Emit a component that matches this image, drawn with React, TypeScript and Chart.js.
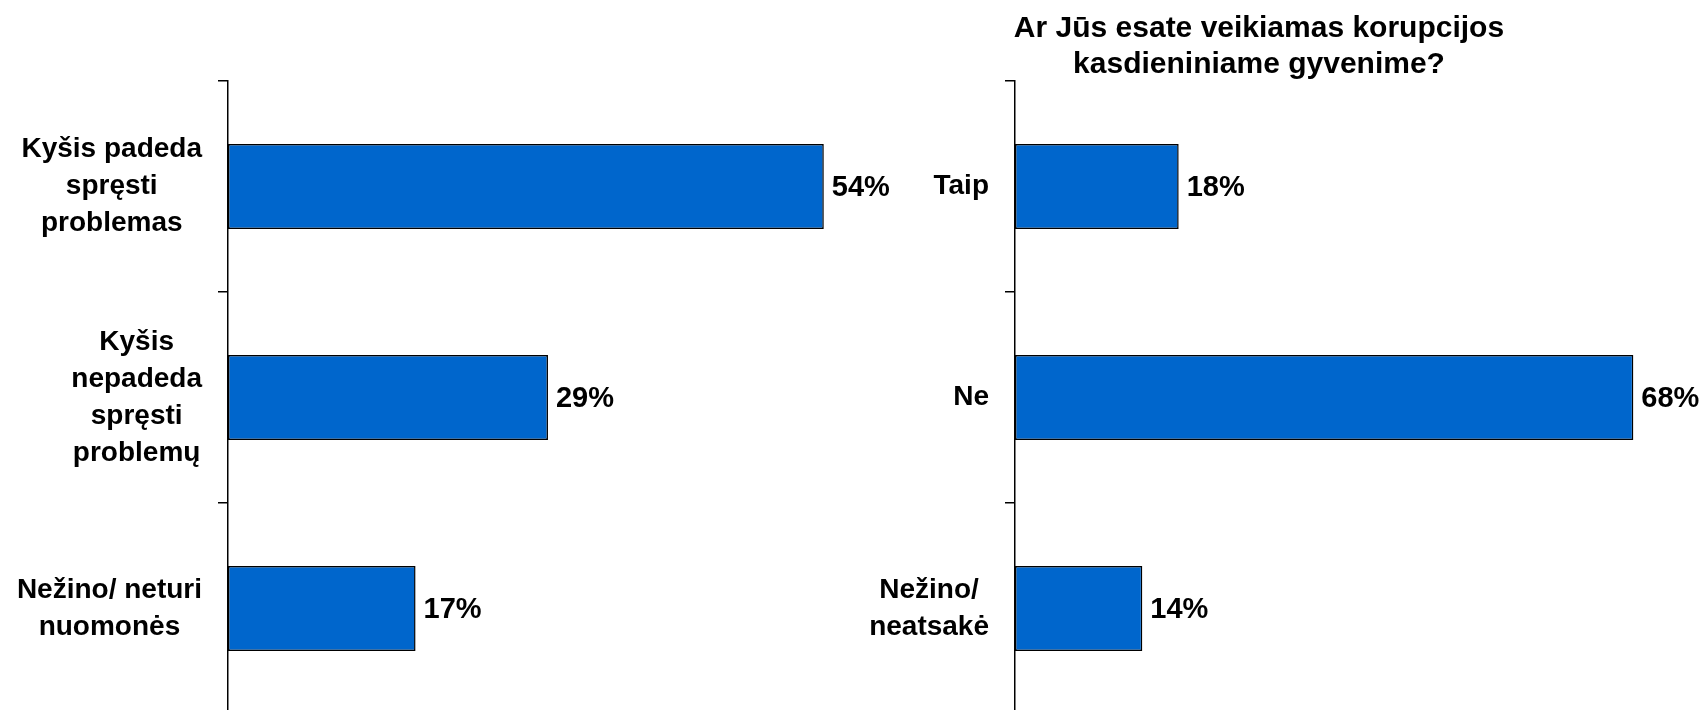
import React, { useEffect, useRef } from "react";
import { Chart, registerables } from "chart.js";

Chart.register(...registerables);

const FONT = '"Liberation Sans", Arial, Helvetica, sans-serif';

// ---- Data ----
const leftCategories: string[][] = [
  ["Kyšis padeda", "spręsti", "problemas"],
  ["Kyšis", "nepadeda", "spręsti", "problemų"],
  ["Nežino/ neturi", "nuomonės"],
];
const leftValues: number[] = [54, 29, 17];
const leftAxisMax = 60;

const rightCategories: string[][] = [["Taip"], ["Ne"], ["Nežino/", "neatsakė"]];
const rightValues: number[] = [18, 68, 14];
const rightAxisMax = 75;
const rightTitle: string[] = ["Ar Jūs esate veikiamas korupcijos", "kasdieniniame gyvenime?"];

const BAR_COLOR = "#0066CC";

const labelPlugin = {
  id: "customLabels",
  afterDraw(chart: any, _args: any, opts: any) {
    const ctx = chart.ctx as CanvasRenderingContext2D;
    const y = chart.scales.y;
    ctx.save();
    ctx.fillStyle = "#000";
    ctx.font = `bold ${opts.fontSize}px ${FONT}`;
    ctx.textBaseline = "middle";
    ctx.textAlign = "center";
    (opts.categories as string[][]).forEach((lines, i) => {
      const yc = y.getPixelForTick(i);
      const w = Math.max(...lines.map((l) => ctx.measureText(l).width));
      const cx = y.right - opts.tickLength - opts.labelGap - w / 2;
      lines.forEach((line, j) => {
        ctx.fillText(line, cx, yc + (j - (lines.length - 1) / 2) * opts.lineHeight);
      });
    });
    const meta = chart.getDatasetMeta(0);
    ctx.textAlign = "left";
    ctx.font = `bold ${opts.valueSize}px ${FONT}`;
    meta.data.forEach((bar: any, i: number) => {
      ctx.fillText(opts.values[i] + "%", bar.x + opts.valueGap, bar.y + 1);
    });
    if (opts.title) {
      ctx.textAlign = "center";
      ctx.textBaseline = "alphabetic";
      ctx.font = `bold ${opts.titleSize}px ${FONT}`;
      const tx = chart.chartArea.left + opts.titleOffsetX;
      (opts.title as string[]).forEach((line, j) => {
        ctx.fillText(line, tx, opts.titleBaseline + j * opts.titleLineHeight);
      });
    }
    ctx.restore();
  },
};

interface PanelProps {
  categories: string[][];
  values: number[];
  max: number;
  width: number;
  left: number;
  axisWidth: number;
  padRight: number;
  title?: string[];
}

function BarPanel(props: PanelProps) {
  const ref = useRef<HTMLCanvasElement | null>(null);
  useEffect(() => {
    if (!ref.current) return;
    const chart = new Chart(ref.current, {
      type: "bar",
      data: {
        labels: props.categories.map((c) => c.join(" ")),
        datasets: [
          {
            data: props.values,
            backgroundColor: BAR_COLOR,
            borderColor: "#000",
            borderWidth: 1.5,
            borderSkipped: false,
            barPercentage: 0.403,
            categoryPercentage: 1,
          },
        ],
      },
      options: {
        indexAxis: "y",
        responsive: false,
        animation: false,
        layout: { padding: { top: 81, bottom: 6, left: 0, right: props.padRight } },
        plugins: {
          legend: { display: false },
          tooltip: { enabled: false },
          customLabels: {
            categories: props.categories,
            values: props.values,
            fontSize: 28,
            valueSize: 29,
            lineHeight: 37,
            tickLength: 10,
            labelGap: 16,
            valueGap: 8,
            title: props.title,
            titleSize: 30,
            titleOffsetX: 244,
            titleBaseline: 37,
            titleLineHeight: 36,
          },
        } as any,
        scales: {
          x: { display: false, min: 0, max: props.max },
          y: {
            grid: {
              drawOnChartArea: false,
              drawTicks: true,
              tickLength: 10,
              color: "#000",
              lineWidth: 1.5,
              offset: true,
            },
            border: { display: true, color: "#000", width: 1.5 },
            ticks: { display: false },
            afterFit: (s: any) => {
              s.width = props.axisWidth;
            },
          },
        },
      },
      plugins: [labelPlugin],
    } as any);
    return () => chart.destroy();
  }, []);
  return (
    <canvas
      ref={ref}
      width={props.width}
      height={720}
      style={{ position: "absolute", left: props.left, top: 0, width: props.width, height: 720 }}
    />
  );
}

export default function App() {
  return (
    <div
      style={{
        position: "absolute",
        left: 0,
        top: 0,
        width: 1702,
        height: 710,
        overflow: "hidden",
        background: "#fff",
      }}
    >
      <BarPanel
        categories={leftCategories}
        values={leftValues}
        max={leftAxisMax}
        width={900}
        left={0}
        axisWidth={228}
        padRight={10}
      />
      <BarPanel
        categories={rightCategories}
        values={rightValues}
        max={rightAxisMax}
        width={852}
        left={850}
        axisWidth={165}
        padRight={5}
        title={rightTitle}
      />
    </div>
  );
}
